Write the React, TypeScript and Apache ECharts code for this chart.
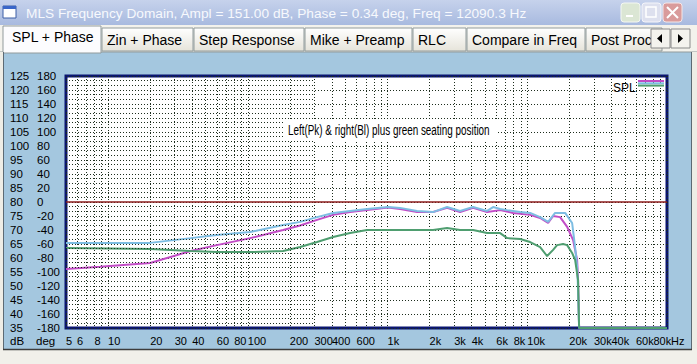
import React, { useEffect, useRef } from "react";
import * as echarts from "echarts";

// ---------- data ----------
const freqLeft = [5, 8.75, 20, 39, 60, 104, 179, 237, 313, 408, 539, 714, 1009, 1230, 1627, 2118, 2667, 3304, 4095, 5160, 6395, 7919, 10480, 12360, 14100, 15310, 17180, 19290, 21290, 22740, 23100, 23500, 100000];
const splLeft = [56.1, 56.9, 58.2, 62.5, 64.6, 67.1, 70.0, 71.6, 73.6, 75.4, 76.4, 77.1, 78.0, 77.5, 76.4, 76.4, 77.9, 76.4, 77.9, 76.4, 77.1, 76.1, 75.4, 74.3, 72.5, 75.0, 74.6, 71.1, 66.4, 59.3, 52.1, 35, 35];

const freqRight = [5, 8.75, 20, 39, 60, 104, 179, 237, 313, 408, 539, 714, 1009, 1230, 1627, 2118, 2667, 3304, 4095, 5160, 5696, 6395, 7176, 8887, 10480, 12360, 14100, 15820, 18660, 20940, 22000, 22740, 23100, 23500, 100000];
const splRight = [65.4, 65.4, 65.4, 67.1, 68.2, 69.3, 71.8, 72.9, 74.6, 76.1, 76.8, 77.5, 78.2, 77.9, 76.8, 76.4, 78.2, 76.8, 78.2, 76.8, 78.2, 77.5, 77.1, 76.4, 76.1, 74.6, 72.9, 76.1, 76.1, 72.5, 63.9, 56.8, 48.6, 35, 35];

const freqSeat = [5, 20, 39, 60, 104, 179, 237, 313, 408, 539, 714, 1009, 1627, 2118, 2667, 3304, 4095, 5160, 6395, 7176, 8887, 10480, 12360, 13870, 15310, 16350, 18050, 19290, 20940, 22000, 23100, 23500, 100000];
const splSeat = [63.6, 63.2, 62.5, 62.1, 62.1, 62.5, 63.9, 65.7, 67.5, 68.9, 70.0, 70.0, 70.0, 70.0, 70.7, 70.0, 70.0, 68.9, 68.9, 67.1, 66.8, 65.7, 63.9, 60.7, 62.9, 64.6, 65.0, 64.6, 61.8, 59.3, 52.1, 35, 35];

const dbMin = 35;
const dbMax = 125;
const dbStep = 5;
const degMin = -180;
const degMax = 180;
const degStep = 20;
const fMin = 5;
const fMax = 100000;
const refLevel = 80;
const denseGridEnd = 300;
const labelFreqs = [5, 6, 8, 10, 20, 30, 40, 60, 80, 100, 200, 300, 400, 600, 1000, 2000, 3000, 4000, 6000, 8000, 10000, 20000, 30000, 40000, 60000, 80000, 100000];
const gridMultipliers = [1, 2, 3, 4, 5, 6, 7, 8, 9];
const decades = [1, 10, 100, 1000, 10000, 100000];

const titleText = "MLS Frequency Domain, Ampl = 151.00 dB, Phase = 0.34 deg, Freq = 12090.3 Hz";
const tabLabels = ["SPL + Phase", "Zin + Phase", "Step Response", "Mike + Preamp", "RLC", "Compare in Freq", "Post Proc"];
const annotation = "Left(Pk) & right(Bl) plus green seating position";
const legendName = "SPL";

const COL_LEFT = "#c24cc6";
const COL_RIGHT = "#7dbde2";
const COL_SEAT = "#4f9e70";
const FONT = '"Liberation Sans", Arial, sans-serif';

export default function App() {
  const ref = useRef<HTMLDivElement>(null);

  useEffect(() => {
    if (!ref.current) return;
    const chart = echarts.init(ref.current, undefined, { renderer: "svg" });

    const gridFreqs: number[] = [];
    decades.forEach((d) => gridMultipliers.forEach((m) => {
      const f = d * m;
      if (f >= fMin && f <= fMax) gridFreqs.push(f);
    }));

    const minorDb: number[] = [];
    for (let v = dbMin; v < dbMax; v += dbStep) {
      minorDb.push(v + dbStep / 3, v + (2 * dbStep) / 3);
    }

    const dotted = { type: [1, 2] as any, color: "#1d2d1d", width: 1 };

    const fmtFreq = (v: number) => {
      const f = Math.round(Math.pow(10, v));
      if (f >= 100000) return "{u|Hz}";
      if (f >= 1000) return f / 1000 + "k";
      return String(f);
    };

    // tab geometry
    const tabX = [3, 102, 194, 305, 413, 467, 586];
    const tabEnd = [101, 193, 304, 412, 466, 585, 662];
    const tabGraphics: any[] = [];
    tabLabels.forEach((t, i) => {
      const sel = i === 0;
      tabGraphics.push({
        type: "rect",
        shape: { x: tabX[i], y: sel ? 26 : 28, width: tabEnd[i] - tabX[i], height: sel ? 27 : 23 },
        style: sel
          ? { fill: "#fcfcfe", stroke: "#919b9c", lineWidth: 1 }
          : {
              fill: { type: "linear", x: 0, y: 0, x2: 0, y2: 1, colorStops: [{ offset: 0, color: "#ffffff" }, { offset: 1, color: "#e6e4da" }] },
              stroke: "#919b9c",
              lineWidth: 1,
            },
      });
      tabGraphics.push({
        type: "text",
        x: tabX[i] + (sel ? 9 : 5),
        y: sel ? 37 : 39.5,
        style: { text: t, font: `14px ${FONT}`, fill: "#000", verticalAlign: "middle" },
      });
    });

    const option: any = {
      animation: false,
      backgroundColor: "#a4c7df",
      grid: {
        left: 66,
        top: 76,
        right: 30,
        bottom: 36,
        show: true,
        backgroundColor: "#ffffff",
        borderColor: "#0b1670",
        borderWidth: 3,
        z: 0,
      },
      xAxis: [
        { type: "log", logBase: 10, min: fMin, max: fMax, show: false },
        {
          type: "value",
          min: Math.log10(fMin),
          max: Math.log10(fMax),
          position: "bottom",
          axisLine: { show: false },
          axisTick: { show: false, customValues: gridFreqs.map((f) => Math.log10(f)) },
          axisLabel: {
            customValues: labelFreqs.map((f) => Math.log10(f)),
            formatter: fmtFreq,
            align: "left",
            margin: 7,
            fontSize: 11,
            fontFamily: FONT,
            color: "#000",
            hideOverlap: false,
            showMinLabel: true,
            showMaxLabel: true,
            rich: { u: { fontSize: 11, fontFamily: FONT, color: "#000", padding: [0, 0, 0, 4] } },
          },
          splitLine: { show: true, lineStyle: dotted },
        },
      ],
      yAxis: [
        {
          type: "value",
          min: dbMin,
          max: dbMax,
          interval: dbStep,
          position: "left",
          axisLine: { show: false },
          axisTick: { show: false },
          axisLabel: { margin: 56, align: "left", fontSize: 11.5, fontFamily: FONT, color: "#000", padding: [0, 0, 7, 0] },
          splitLine: { show: true, lineStyle: dotted },
        },
        {
          type: "value",
          min: degMin,
          max: degMax,
          interval: degStep,
          position: "left",
          axisLine: { show: false },
          axisTick: { show: false },
          axisLabel: { margin: 29, align: "left", fontSize: 11.5, fontFamily: FONT, color: "#000", padding: [0, 0, 7, 0] },
          splitLine: { show: false },
        },
      ],
      series: [
        {
          type: "line",
          name: "grid",
          xAxisIndex: 0,
          yAxisIndex: 0,
          data: [],
          silent: true,
          markLine: {
            silent: true,
            symbol: ["none", "none"],
            label: { show: false },
            animation: false,
            data: [
              ...minorDb.map((v) => [
                { coord: [fMin, v], lineStyle: dotted },
                { coord: [denseGridEnd, v] },
              ]),
              { yAxis: refLevel, lineStyle: { type: "solid", color: "#8c1c1c", width: 1.5 } },
            ],
          },
        },
        {
          type: "line",
          name: "Left",
          xAxisIndex: 0,
          yAxisIndex: 0,
          data: freqLeft.map((f, i) => [f, splLeft[i]]),
          showSymbol: false,
          clip: false,
          lineStyle: { color: COL_LEFT, width: 2 },
        },
        {
          type: "line",
          name: "Right",
          xAxisIndex: 0,
          yAxisIndex: 0,
          data: freqRight.map((f, i) => [f, splRight[i]]),
          showSymbol: false,
          clip: false,
          lineStyle: { color: COL_RIGHT, width: 2 },
        },
        {
          type: "line",
          name: "Seat",
          xAxisIndex: 0,
          yAxisIndex: 0,
          data: freqSeat.map((f, i) => [f, splSeat[i]]),
          showSymbol: false,
          clip: false,
          lineStyle: { color: COL_SEAT, width: 2 },
        },
      ],
      graphic: [
        // title bar
        {
          type: "rect",
          shape: { x: 0, y: 0, width: 697, height: 25 },
          style: { fill: { type: "linear", x: 0, y: 0, x2: 0, y2: 1, colorStops: [{ offset: 0, color: "#c6d2ec" }, { offset: 1, color: "#a8badf" }] } },
        },
        { type: "rect", shape: { x: 3, y: 6, width: 13, height: 12 }, style: { fill: "#ffffff", stroke: "#3d5ea6", lineWidth: 1 } },
        { type: "rect", shape: { x: 3, y: 6, width: 13, height: 3 }, style: { fill: "#3a66c8" } },
        { type: "text", x: 26, y: 13, style: { text: titleText, font: `13.7px ${FONT}`, fill: "#f7f9fd", verticalAlign: "middle" } },
        { type: "rect", shape: { x: 621, y: 3, width: 19, height: 19, r: 3 }, style: { fill: "#dbe6d4", stroke: "#f4f7f2", lineWidth: 1 } },
        { type: "rect", shape: { x: 626, y: 15, width: 7, height: 2 }, style: { fill: "#ffffff" } },
        { type: "rect", shape: { x: 642, y: 3, width: 19, height: 19, r: 3 }, style: { fill: "#dde0ee", stroke: "#f4f5fa", lineWidth: 1 } },
        { type: "rect", shape: { x: 646, y: 7, width: 10, height: 10 }, style: { fill: "none", stroke: "#ffffff", lineWidth: 1.5 } },
        { type: "rect", shape: { x: 663, y: 3, width: 19, height: 19, r: 3 }, style: { fill: "#d99b9b", stroke: "#f5e6e6", lineWidth: 1 } },
        { type: "line", shape: { x1: 667, y1: 7, x2: 678, y2: 18 }, style: { stroke: "#ffffff", lineWidth: 2 } },
        { type: "line", shape: { x1: 678, y1: 7, x2: 667, y2: 18 }, style: { stroke: "#ffffff", lineWidth: 2 } },
        // tab row
        { type: "rect", shape: { x: 0, y: 25, width: 697, height: 27 }, style: { fill: "#f3f2ec" } },
        { type: "line", shape: { x1: 0, y1: 52, x2: 697, y2: 52 }, style: { stroke: "#919b9c", lineWidth: 1 } },
        ...tabGraphics,
        { type: "rect", shape: { x: 651, y: 29, width: 19, height: 19 }, style: { fill: "#f4f3ee", stroke: "#8a8a8a", lineWidth: 1 } },
        { type: "polygon", shape: { points: [[657, 38.5], [662, 34], [662, 43]] }, style: { fill: "#000" } },
        { type: "rect", shape: { x: 671, y: 29, width: 19, height: 19 }, style: { fill: "#f4f3ee", stroke: "#8a8a8a", lineWidth: 1 } },
        { type: "polygon", shape: { points: [[678, 34], [678, 43], [683, 38.5]] }, style: { fill: "#000" } },
        // frame
        { type: "rect", shape: { x: 0, y: 52, width: 3, height: 312 }, style: { fill: "#eeede6" } },
        { type: "line", shape: { x1: 3.5, y1: 52, x2: 3.5, y2: 349 }, style: { stroke: "#5c6a74", lineWidth: 1 } },
        { type: "rect", shape: { x: 691, y: 52, width: 6, height: 312 }, style: { fill: "#eeede6" } },
        { type: "line", shape: { x1: 691.5, y1: 52, x2: 691.5, y2: 349 }, style: { stroke: "#5c6a74", lineWidth: 1 } },
        { type: "rect", shape: { x: 0, y: 349, width: 697, height: 15 }, style: { fill: "#f1f0ea" } },
        { type: "line", shape: { x1: 3, y1: 349.5, x2: 692, y2: 349.5 }, style: { stroke: "#3c3c3c", lineWidth: 1.5 } },
        // axis unit labels
        { type: "text", x: 10, y: 341, style: { text: "dB", font: `11.5px ${FONT}`, fill: "#000", verticalAlign: "middle" } },
        { type: "text", x: 36, y: 341, style: { text: "deg", font: `11.5px ${FONT}`, fill: "#000", verticalAlign: "middle" } },
        // annotation
        { type: "rect", z: 100, shape: { x: 284, y: 121, width: 214, height: 19 }, style: { fill: "#ffffff" } },
        { type: "text", z: 101, x: 288, y: 130.5, scaleX: 0.66, style: { text: annotation, font: `15px ${FONT}`, fill: "#000", verticalAlign: "middle" } },
        // legend
        { type: "text", z: 100, x: 613, y: 88, style: { text: legendName, font: `12px ${FONT}`, fill: "#000", verticalAlign: "middle" } },
        { type: "line", z: 100, shape: { x1: 638, y1: 81, x2: 664, y2: 81 }, style: { stroke: COL_LEFT, lineWidth: 2 } },
        { type: "line", z: 100, shape: { x1: 638, y1: 83.3, x2: 664, y2: 83.3 }, style: { stroke: COL_RIGHT, lineWidth: 2 } },
        { type: "line", z: 100, shape: { x1: 638, y1: 85.6, x2: 664, y2: 85.6 }, style: { stroke: COL_SEAT, lineWidth: 2 } },
      ],
    };

    chart.setOption(option);
    return () => chart.dispose();
  }, []);

  return <div ref={ref} style={{ position: "absolute", left: 0, top: 0, width: 697, height: 364 }} />;
}
